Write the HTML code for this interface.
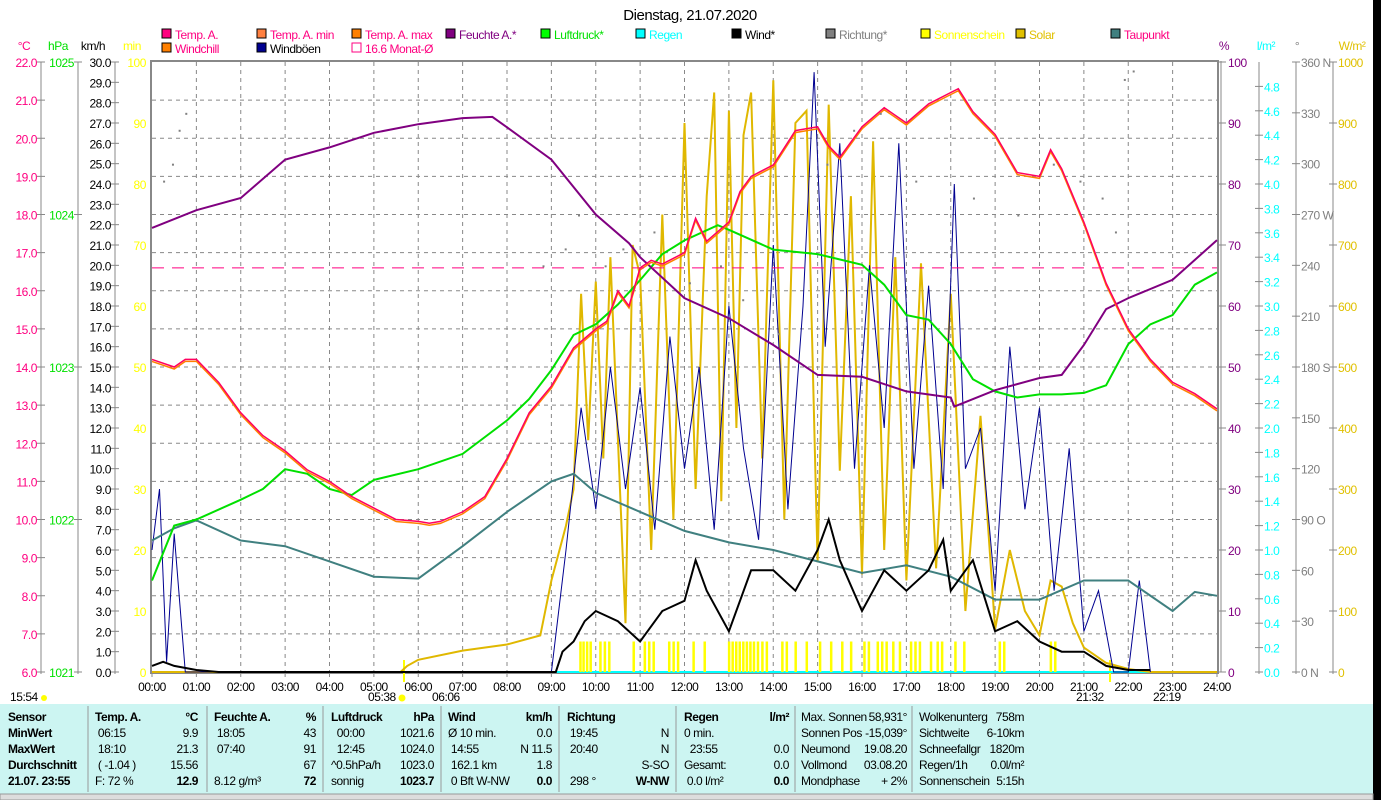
<!DOCTYPE html>
<html><head><meta charset="utf-8"><style>
html,body{margin:0;padding:0;background:#fff;width:1381px;height:800px;overflow:hidden}
svg{display:block;font-family:"Liberation Sans",sans-serif}
svg text{letter-spacing:-0.45px;white-space:pre}
</style></head><body>
<svg id="c" width="1381" height="800" viewBox="0 0 1381 800" xmlns="http://www.w3.org/2000/svg">
<rect x="1373" y="0" width="8" height="800" fill="#000"/>
<text x="690" y="20" font-size="15" text-anchor="middle">Dienstag, 21.07.2020</text>
<g id="legend" font-size="12"></g>
<g id="grid"></g>
<g id="axes" font-size="12"></g>
<g id="series"></g>
<g id="table" font-size="12"></g>
</svg>
<script>
// ---- data ----
const tempT=[0,0.5,0.75,1,1.5,2,2.5,3,3.5,4,4.5,5,5.5,6,6.25,6.5,7,7.5,8,8.5,9,9.5,10,10.25,10.5,10.75,11,11.25,11.5,12,12.25,12.5,13,13.25,13.5,14,14.5,15,15.25,15.5,16,16.5,17,17.5,18,18.17,18.5,19,19.5,20,20.25,20.5,21,21.5,22,22.5,23,23.5,24];
const tempV=[14.2,14.0,14.2,14.2,13.6,12.8,12.2,11.8,11.3,11.0,10.6,10.3,10.0,9.95,9.9,9.95,10.2,10.6,11.6,12.8,13.5,14.5,15.0,15.2,16.0,15.6,16.6,16.8,16.7,17.0,17.9,17.3,17.8,18.6,19.0,19.3,20.2,20.3,19.8,19.5,20.3,20.8,20.4,20.9,21.2,21.3,20.7,20.1,19.1,19.0,19.7,19.2,17.8,16.2,15.0,14.2,13.6,13.3,12.9];
const humT=[0,1,2,3,4,5,6,7,7.67,8,9,10,10.75,11,12,13,14,15,16,17,18,18.08,19,20,20.5,21,21.5,22,23,24];
const humV=[72.8,75.7,77.7,84,86,88.4,89.8,90.8,91,89.3,84,75,70.3,68,61.3,58,53.6,48.7,48.4,46,45,43.5,46.2,48.2,48.7,53.6,59.5,61.3,64.3,70.8];
const presT=[0,0.5,1,2,2.5,3,3.5,4,4.5,5,6,7,8,8.5,9,9.5,10,10.5,11,11.5,12,12.75,13,14,15,16,16.5,17,17.5,18,18.5,19,19.5,20,20.5,21,21.5,22,22.5,23,23.5,24];
const presV=[1021.6,1021.96,1022.0,1022.13,1022.2,1022.33,1022.3,1022.2,1022.16,1022.26,1022.33,1022.43,1022.65,1022.79,1022.98,1023.21,1023.28,1023.41,1023.57,1023.74,1023.83,1023.93,1023.9,1023.77,1023.74,1023.67,1023.54,1023.34,1023.31,1023.15,1022.92,1022.84,1022.8,1022.82,1022.82,1022.83,1022.88,1023.15,1023.28,1023.34,1023.54,1023.62];
const dewT=[0,0.5,1,2,3,4,5,6,7,8,9,9.5,10,11,12,13,14,15,16,17,18,19,20,21,22,23,23.5,24];
const dewV=[9.45,9.77,9.98,9.45,9.3,8.9,8.5,8.45,9.3,10.2,11.0,11.2,10.7,10.2,9.7,9.4,9.2,8.9,8.6,8.8,8.5,7.9,7.9,8.4,8.4,7.6,8.1,8.0];
const windT=[0,0.25,0.5,1,1.5,9.1,9.25,9.5,9.75,10,10.5,11,11.5,12,12.25,12.5,13,13.5,14,14.5,15,15.25,15.5,16,16.5,17,17.5,17.83,18,18.5,19,19.5,20,20.5,21,21.5,22,22.5];
const windV=[0.3,0.5,0.3,0.1,0,0,1.0,1.5,2.5,3.0,2.5,1.5,3.0,3.5,5.5,4.0,2.0,5.0,5.0,4.0,6.0,7.5,5.5,3.0,5.0,4.0,5.0,6.5,4.0,5.5,2.0,2.5,1.5,1.0,1.0,0.3,0.1,0.1];
const gustT=[0,0.17,0.33,0.5,0.75,9,9.33,9.67,10,10.33,10.67,11,11.33,11.67,12,12.33,12.67,13,13.33,13.67,14,14.33,14.67,14.92,15.17,15.5,15.83,16.17,16.5,16.83,17.17,17.5,17.83,18.08,18.33,18.67,19,19.33,19.67,20,20.33,20.67,21,21.33,21.67,22,22.25,22.5];
const gustV=[6.0,9.0,0.5,6.8,0,0,6.0,13.0,8.0,15.0,9.0,14.0,7.0,16.5,10.0,15.0,7.0,18.0,11.0,6.5,21.0,8.0,18.0,29.5,16.0,26.0,10.0,20.0,12.0,26.0,10.0,19.0,9.0,24.0,10.0,12.0,4.0,16.0,8.0,13.0,4.0,11.0,2.0,4.0,0,0,4.5,0];
const solT=[0,5.6,5.75,6,7,8,8.75,9,9.33,9.5,9.67,9.83,10,10.17,10.33,10.67,10.83,11,11.25,11.5,11.75,12,12.25,12.5,12.67,12.83,13,13.17,13.33,13.5,13.75,14,14.25,14.5,14.75,15,15.25,15.5,15.75,16,16.25,16.5,16.75,17,17.33,17.67,18,18.33,18.67,19,19.33,19.67,20,20.25,20.5,20.75,21,21.5,22,22.5,24];
const solV=[0,0,10,20,35,45,60,150,240,300,620,380,640,350,680,80,700,650,200,750,250,900,300,780,950,280,920,400,880,950,350,970,250,900,920,180,930,330,780,160,870,200,680,150,670,170,620,100,420,70,200,100,60,150,140,80,40,15,5,0,0];
const sunT=[9.65,9.72,9.8,9.88,10.1,10.2,10.3,10.85,11.1,11.2,11.3,11.65,11.75,11.85,12.2,12.45,13.0,13.08,13.16,13.24,13.32,13.4,13.48,13.56,13.65,13.75,13.85,14.2,14.3,14.5,14.75,15.05,15.3,15.55,15.75,16.05,16.15,16.35,16.45,16.55,16.7,16.85,17.1,17.2,17.3,17.55,17.7,17.8,18.1,18.3,19.1,19.2,20.25,20.35];
const dirT=[0.25,0.45,0.6,0.75,8.8,9.3,9.6,10.2,10.6,11.3,12.1,12.8,13.3,14.1,15.2,15.8,16.4,17.2,18.5,19.5,20.3,20.9,21.4,21.7,21.9,22.1];
const dirV=[290,300,320,330,240,250,270,240,250,260,230,240,220,200,300,320,330,290,280,270,300,290,280,260,350,355];
const tempTicks=[6,7,8,9,10,11,12,13,14,15,16,17,18,19,20,21,22];
const presTicks=[1021,1022,1023,1024,1025];
const hours=[0,1,2,3,4,5,6,7,8,9,10,11,12,13,14,15,16,17,18,19,20,21,22,23,24];
const monthAvg=16.6;

// ---- scales ----
const X0=152,X1=1217,Y0=62,Y1=672;
const x=h=>X0+h*(X1-X0)/24;
const yT=t=>Y0+(22-t)*(Y1-Y0)/16;
const yP=p=>Y0+(1025-p)*(Y1-Y0)/4;
const yW=k=>Y1-k*(Y1-Y0)/30;
const yH=v=>Y1-v*(Y1-Y0)/100;
const yS=w=>Y1-w*(Y1-Y0)/1000;
const yD=d=>Y1-d*(Y1-Y0)/360;
const NS="http://www.w3.org/2000/svg";
function mk(tag,at,parent){const e=document.createElementNS(NS,tag);for(const k in at)e.setAttribute(k,at[k]);document.getElementById(parent).appendChild(e);return e;}
function txt(s,xx,yy,col,anchor,parent,extra){const e=mk('text',Object.assign({x:xx,y:yy,fill:col,'text-anchor':anchor||'start'},extra||{}),parent);e.textContent=s;return e;}
function pts(T,V,fy){return T.map((t,i)=>x(t).toFixed(1)+','+fy(V[i]).toFixed(1)).join(' ');}

// grid
for(const h of hours){if(h>0&&h<24){const l=mk('line',{x1:x(h),x2:x(h),y1:Y0,y2:Y1,stroke:'#888','stroke-dasharray':'4,4'},'grid');

}}
for(const t of tempTicks){if(t>6&&t<22){const l=mk('line',{x1:X0,x2:X1,y1:yT(t),y2:yT(t),stroke:'#888','stroke-dasharray':'4,4'},'grid');

}}
let fr=mk('rect',{x:X0-1,y:Y0-1,width:X1-X0+2,height:Y1-Y0+2,fill:'none',stroke:'#888','stroke-width':2},'grid');


mk('line',{x1:1221,x2:1221,y1:Y0-1,y2:Y1,stroke:'#888','stroke-width':1},'grid');

// axes
function vaxis(ax,name){const l=mk('line',{x1:ax,x2:ax,y1:Y0,y2:Y1+2,stroke:'#888'},'axes');

}
vaxis(41,'temp-axis');vaxis(78,'pressure-axis');vaxis(115,'wind-axis');
vaxis(1259,'rain-axis');vaxis(1296,'direction-axis');vaxis(1333,'solar-axis');
for(const t of tempTicks){txt(t.toFixed(1),37,yT(t)+5,'#ff0080','end','axes');mk('line',{x1:37,x2:45,y1:yT(t),y2:yT(t),stroke:'#888'},'axes');}
for(const p of presTicks){txt(String(p),74,yP(p)+5,'#00e000','end','axes');mk('line',{x1:74,x2:82,y1:yP(p),y2:yP(p),stroke:'#888'},'axes');}
for(let k=0;k<=30;k++){txt(k.toFixed(1),111,yW(k)+5,'#000','end','axes');mk('line',{x1:111,x2:119,y1:yW(k),y2:yW(k),stroke:'#888'},'axes');}
for(let m=0;m<=100;m+=10){txt(String(m),146,yH(m)+5,'#ffff00','end','axes');}
for(let m=0;m<=100;m+=10){txt(String(m),1228,yH(m)+5,'#800080','start','axes');mk('line',{x1:1218,x2:1226,y1:yH(m),y2:yH(m),stroke:'#888'},'axes');}
for(let r=0;r<=24;r++){const v=r*0.2;txt(v.toFixed(1),1264,Y1-v*(Y1-Y0)/5+5,'#00ffff','start','axes');mk('line',{x1:1255,x2:1263,y1:Y1-v*(Y1-Y0)/5,y2:Y1-v*(Y1-Y0)/5,stroke:'#888'},'axes');}
const dl={0:' N',90:' O',180:' S',270:' W',360:' N'};
for(let d=0;d<=360;d+=30){txt(String(d)+(dl[d]||''),1301,yD(d)+5,'#808080','start','axes');mk('line',{x1:1292,x2:1300,y1:yD(d),y2:yD(d),stroke:'#888'},'axes');}
for(let w=0;w<=1000;w+=100){txt(String(w),1338,yS(w)+5,'#e0c000','start','axes');mk('line',{x1:1329,x2:1337,y1:yS(w),y2:yS(w),stroke:'#888'},'axes');}
[['°C',24,'#ff0080'],['hPa',58,'#00e000'],['km/h',93,'#000'],['min',132,'#ffff00'],['%',1224,'#800080'],['l/m²',1266,'#00ffff'],['°',1297,'#808080'],['W/m²',1352,'#e0c000']].forEach(a=>txt(a[0],a[1],50,a[2],'middle','axes'));
for(const h of hours){txt((h<10?'0':'')+h+':00',x(h),691,'#000','middle','axes');mk('line',{x1:x(h),x2:x(h),y1:Y1,y2:Y1+5,stroke:'#888'},'axes');}
txt('15:54',10,701,'#000','start','axes');mk('circle',{cx:44,cy:698,r:3,fill:'#ffff00'},'axes');
txt('05:38',368,701,'#000','start','axes');mk('circle',{cx:402,cy:698,r:3.5,fill:'#ffff00'},'axes');
txt('06:06',432,701,'#000','start','axes');
txt('21:32',1076,701,'#000','start','axes');txt('22:19',1153,701,'#000','start','axes');
mk('line',{x1:404,x2:404,y1:660,y2:682,stroke:'#ffff00','stroke-width':2},'axes');
mk('line',{x1:1110,x2:1110,y1:660,y2:682,stroke:'#ffff00','stroke-width':2},'axes');

// series
const S='series';
mk('line',{x1:X0,x2:X1,y1:Y1,y2:Y1,stroke:'#00ffff','stroke-width':2},S);
for(const t of sunT){const b=mk('rect',{x:x(t)-1,y:yH(5),width:2.5,height:yH(0)-yH(5),fill:'#ffff00'},S);

}
let e;
e=mk('polyline',{points:pts(solT,solV,yS),fill:'none',stroke:'#e0b800','stroke-width':2},S);


e=mk('polyline',{points:pts(gustT,gustV,yW),fill:'none',stroke:'#000090','stroke-width':1},S);


e=mk('polyline',{points:pts(dewT,dewV,yT),fill:'none',stroke:'#408080','stroke-width':2},S);


e=mk('polyline',{points:pts(windT,windV,yW),fill:'none',stroke:'#000','stroke-width':2},S);


e=mk('polyline',{points:pts(presT,presV,yP),fill:'none',stroke:'#00e000','stroke-width':2},S);


e=mk('polyline',{points:pts(humT,humV,yH),fill:'none',stroke:'#800080','stroke-width':2},S);


e=mk('polyline',{points:pts(tempT,tempV,t=>yT(t)+2),fill:'none',stroke:'#ff8000','stroke-width':1.5},S);


e=mk('polyline',{points:pts(tempT,tempV,yT),fill:'none',stroke:'#ff0060','stroke-width':1.5},S);


e=mk('line',{x1:X0,x2:X1,y1:yT(monthAvg),y2:yT(monthAvg),stroke:'#ff0080','stroke-dasharray':'12,8'},S);


dirT.forEach((t,i)=>{const d=mk('rect',{x:x(t),y:yD(dirV[i]),width:2,height:2,fill:'#808080'},S);

});

// legend
const L=[['Temp. A.',162,38,'#ff0080','#ff0080'],['Temp. A. min',257,38,'#ff8040','#ff0080'],['Temp. A. max',352,38,'#ff8000','#ff0080'],['Feuchte A.*',446,38,'#800080','#800080'],['Luftdruck*',541,38,'#00ff00','#00e000'],['Regen',636,38,'#00ffff','#00ffff'],['Wind*',732,38,'#000','#000'],['Richtung*',826,38,'#808080','#808080'],['Sonnenschein',921,38,'#ffff00','#ffff00'],['Solar',1016,38,'#e0c000','#e0c000'],['Taupunkt',1111,38,'#408080','#ff0080'],['Windchill',162,52,'#ff8000','#ff0080'],['Windböen',257,52,'#000090','#000'],['16.6 Monat-Ø',352,52,'none','#ff0080']];
L.forEach(l=>{const g=mk('g',{},'legend');


const r=document.createElementNS(NS,'rect');r.setAttribute('x',l[1]);r.setAttribute('y',l[2]-9);r.setAttribute('width',9);r.setAttribute('height',9);r.setAttribute('fill',l[3]);r.setAttribute('stroke',l[3]==='none'?'#ff0080':'#000');g.appendChild(r);
const t=document.createElementNS(NS,'text');t.setAttribute('x',l[1]+13);t.setAttribute('y',l[2]+1);t.setAttribute('fill',l[4]);t.textContent=l[0];g.appendChild(t);});

// table
const tb=mk('rect',{x:0,y:704,width:1373,height:90,fill:'#ccf5f2'},'table');


mk('rect',{x:0,y:794,width:1373,height:6,fill:'#ddd',stroke:'#999'},'table');
[88,207,323,441,559,676,795,912].forEach(dx=>mk('line',{x1:dx,x2:dx,y1:706,y2:792,stroke:'#999'},'table'));
const rows=[721,737,753,769,785];
const cells=[
[8,'start',['Sensor','MinWert','MaxWert','Durchschnitt','21.07. 23:55'],1],
[95,'start',['Temp. A.',' 06:15',' 18:10',' ( -1.04 )','F: 72 %'],[1,0,0,0,0]],
[198,'end',['°C','9.9','21.3','15.56','12.9'],[1,0,0,0,1]],
[214,'start',['Feuchte A.',' 18:05',' 07:40','','8.12 g/m³'],[1,0,0,0,0]],
[316,'end',['%','43','91','67','72'],[1,0,0,0,1]],
[331,'start',['Luftdruck','  00:00','  12:45','^0.5hPa/h','sonnig'],[1,0,0,0,0]],
[434,'end',['hPa','1021.6','1024.0','1023.0','1023.7'],[1,0,0,0,1]],
[448,'start',['Wind','Ø 10 min.',' 14:55',' 162.1 km',' 0 Bft W-NW'],[1,0,0,0,0]],
[552,'end',['km/h','0.0','N 11.5','1.8','0.0'],[1,0,0,0,1]],
[567,'start',['Richtung',' 19:45',' 20:40','',' 298 °'],[1,0,0,0,0]],
[669,'end',['','N','N','S-SO','W-NW'],[0,0,0,0,1]],
[684,'start',['Regen','0 min.','  23:55','Gesamt:',' 0.0 l/m²'],[1,0,0,0,0]],
[789,'end',['l/m²','','0.0','0.0','0.0'],[1,0,0,0,1]],
[801,'start',['Max. Sonnen','Sonnen Pos','Neumond','Vollmond','Mondphase'],0],
[907,'end',['58,931°','-15,039°','19.08.20','03.08.20','+ 2%'],0],
[919,'start',['Wolkenunterg','Sichtweite','Schneefallgr','Regen/1h','Sonnenschein'],0],
[1024,'end',['758m','6-10km','1820m','0.0l/m²','5:15h'],0]];
cells.forEach(c=>{c[2].forEach((s,i)=>{if(!s)return;const b=Array.isArray(c[3])?c[3][i]:c[3];const t=txt(s,c[0],rows[i],'#000',c[1],'table',{'font-weight':b?'bold':'normal'});

});});
</script>
</body></html>
